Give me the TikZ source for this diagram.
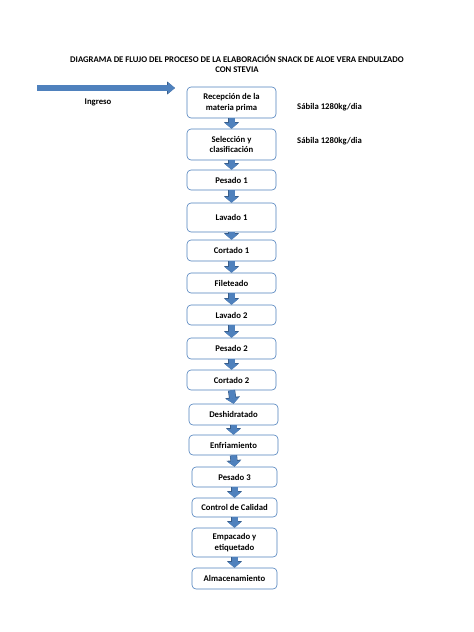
\documentclass[tikz,border=0pt]{standalone}
\usepackage{fontspec}
\setmainfont{Carlito}
\usetikzlibrary{arrows.meta}
\definecolor{boxline}{HTML}{4F81BD}
\definecolor{arrowfill}{HTML}{4F81BD}
\definecolor{arrowedge}{HTML}{385D8A}
\begin{document}
\begin{tikzpicture}
  [x=1pt, y=-1pt,
   every node/.style={font=\fontsize{8.7}{10.5}\selectfont\bfseries, inner sep=1pt},
   paso/.style={draw=boxline, line width=0.6pt, rounded corners=4pt, fill=white, align=center, minimum width=89pt},
   pasob/.style={paso, minimum width=85pt},
   flecha/.style={draw=arrowfill, line width=6pt, -{Triangle[width=13pt,length=5.5pt]},
     preaction={draw=arrowedge, line width=7.2pt, -{Triangle[width=14.6pt,length=6.5pt]}}},
   ingreso/.style={draw=arrowfill, line width=5.5pt, -{Triangle[width=11pt,length=7pt]},
     preaction={draw=arrowedge, line width=6.5pt, -{Triangle[width=12.6pt,length=8pt]}}}]
  \useasboundingbox (0,0) rectangle (474,632);
  \node (titulo) [align=center] at (237,64)
    {DIAGRAMA DE FLUJO DEL PROCESO DE LA ELABORACIÓN SNACK DE ALOE VERA ENDULZADO\\CON STEVIA};
  \node (recepcion) [paso, minimum height=31pt] at (231.5,102.5) {Recepción de la\\materia prima};
  \node (seleccion) [paso, minimum height=31pt] at (231.5,144.5) {Selección y\\clasificación};
  \node (pesado1) [paso, minimum height=20pt] at (231.5,180) {Pesado 1};
  \node (lavado1) [paso, minimum height=29pt] at (231.5,217.5) {Lavado 1};
  \node (cortado1) [paso, minimum height=21pt] at (231.5,250.5) {Cortado 1};
  \node (fileteado) [paso, minimum height=20pt] at (231.5,283) {Fileteado};
  \node (lavado2) [paso, minimum height=20pt] at (231.5,315) {Lavado 2};
  \node (pesado2) [paso, minimum height=21pt] at (231.5,348.5) {Pesado 2};
  \node (cortado2) [paso, minimum height=20pt] at (231.5,380) {Cortado 2};
  \node (deshidratado) [paso, minimum height=21pt] at (233.5,414.5) {Deshidratado};
  \node (enfriamiento) [paso, minimum height=20pt] at (233.5,445) {Enfriamiento};
  \node (pesado3) [pasob, minimum height=20pt] at (234.5,477) {Pesado 3};
  \node (control) [pasob, minimum height=19pt] at (234.5,507.5) {Control de Calidad};
  \node (empacado) [pasob, minimum height=29pt] at (234.5,542.5) {Empacado y\\etiquetado};
  \node (almacen) [pasob, minimum height=21pt] at (234.5,578.5) {Almacenamiento};
  \node (sabila1) [anchor=west] at (296,107) {Sábila 1280kg/dia};
  \node (sabila2) [anchor=west] at (296,141) {Sábila 1280kg/dia};
  \node (ingtexto) at (98,102) {Ingreso};
  \coordinate (ingA) at (37,88);
  \coordinate (ingB) at (175,88);
  \draw[ingreso] (ingA) -- (ingB);
  \foreach \a/\b in {recepcion/seleccion, seleccion/pesado1, pesado1/lavado1, lavado1/cortado1,
    cortado1/fileteado, fileteado/lavado2, lavado2/pesado2, pesado2/cortado2, cortado2/deshidratado,
    deshidratado/enfriamiento, enfriamiento/pesado3, pesado3/control, control/empacado, empacado/almacen}
    \draw[flecha] (\a.south) -- (\b.north);
\end{tikzpicture}
\end{document}
